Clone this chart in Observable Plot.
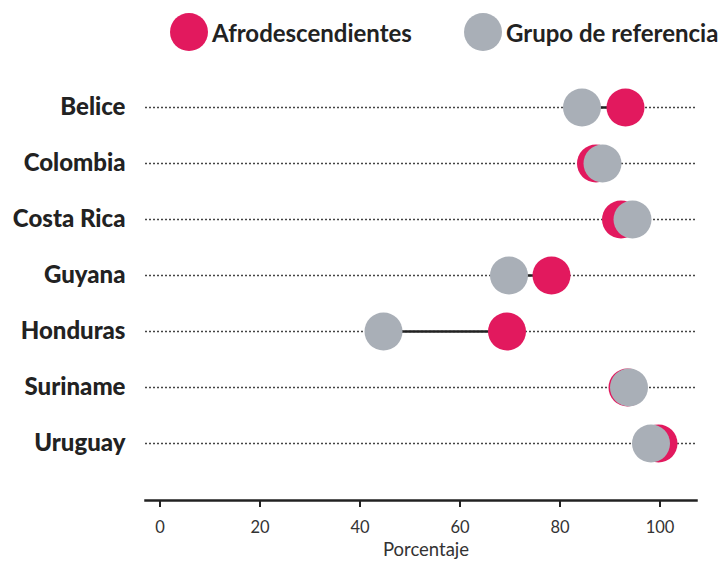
<!DOCTYPE html>
<html><head><meta charset="utf-8">
<script src="https://cdn.jsdelivr.net/npm/d3@7"></script>
<script src="https://cdn.jsdelivr.net/npm/@observablehq/plot@0.6"></script>
<style>
body{margin:0;background:#fff;font-family:Lato,"Open Sans",sans-serif;}
#wrap{position:relative;width:725px;height:563px;overflow:hidden;}
#legend{position:relative;height:64px;}
.item{position:absolute;top:13px;display:flex;align-items:center;font-weight:700;font-size:24px;color:#222;white-space:nowrap;}
.sw{width:38px;height:38px;border-radius:50%;margin-right:4px;}
#chart svg{display:block;}
</style></head><body>
<div id="wrap"><div id="legend"></div><div id="chart"></div></div>
<script>
const countries = ["Belice","Colombia","Costa Rica","Guyana","Honduras","Suriname","Uruguay"];
const afro = [93.1, 87.2, 92.2, 78.3, 69.4, 93.5, 99.7];
const ref  = [84.4, 88.5, 94.5, 69.8, 44.7, 93.8, 98.2];
const seriesNames = ["Afrodescendientes","Grupo de referencia"];
const seriesColors = ["#E2195E","#A9AFB7"];
const xTicks = [0,20,40,60,80,100];
const xLabel = "Porcentaje";

// legend
const legend = document.getElementById("legend");
const legendLeft = [170, 464];
seriesNames.forEach((n,i)=>{
  const it = document.createElement("div");
  it.className = "item";
  it.style.left = legendLeft[i] + "px";
  it.innerHTML = `<span class="sw" style="background:${seriesColors[i]}"></span><span>${n}</span>`;
  legend.appendChild(it);
});

const rows = countries.map((c,i)=>({country:c, afro:afro[i], ref:ref[i]}));
const pts = [];
rows.forEach(r=>{ pts.push({country:r.country, v:r.afro, s:seriesNames[0]}); });
rows.forEach(r=>{ pts.push({country:r.country, v:r.ref, s:seriesNames[1]}); });

const chart = Plot.plot({
  width: 725,
  height: 499,
  marginLeft: 145,
  marginRight: 29,
  marginTop: 0,
  marginBottom: 63,
  style: {fontFamily: "Lato, 'Open Sans', sans-serif", color: "#222", background: "transparent"},
  x: {domain: [-2.9, 107.3], range: [145, 696]},
  y: {type: "point", domain: countries, range: [41, 380], padding: 0},
  color: {domain: seriesNames, range: seriesColors},
  marks: [
    Plot.ruleY(countries, {y: d=>d, stroke: "#444", strokeWidth: 1.3, strokeDasharray: "2,2"}),
    Plot.link(rows, {x1: "ref", x2: "afro", y1: "country", y2: "country", stroke: "#222", strokeWidth: 2.6}),
    Plot.dot(pts, {x: "v", y: "country", r: 19, fill: "s", stroke: null}),
    Plot.frame({anchor: "bottom", stroke: "#222", strokeWidth: 2.5}),
    Plot.axisX({ticks: xTicks, tickSize: 7, tickPadding: 14, strokeWidth: 2, stroke: "#222", fontSize: 16.5, fill: "#333", label: null}),
    Plot.axisY({tickSize: 0, tickPadding: 20, fontSize: 24, fontWeight: 900, fill: "#222", label: null}),
    Plot.text([xLabel], {frameAnchor: "bottom", dy: 55, dx: 5, fontSize: 18.5, fill: "#333"})
  ]
});
document.getElementById("chart").appendChild(chart);
</script>
</body></html>
